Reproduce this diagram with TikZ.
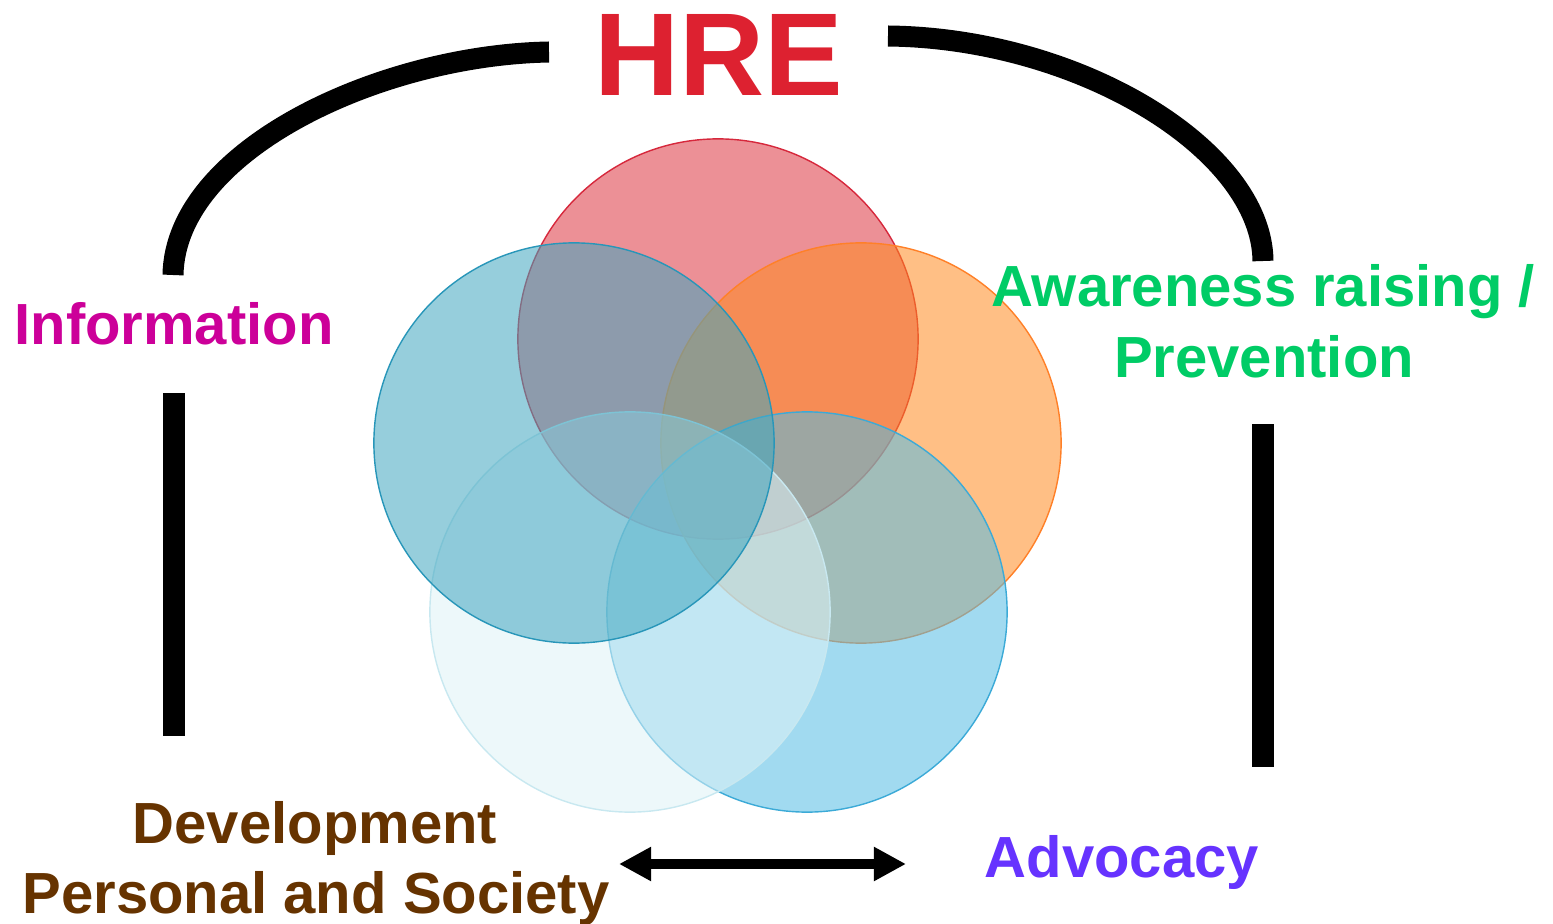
\documentclass[tikz,border=0pt]{standalone}
\usepackage{fontspec}
\setmainfont{Liberation Sans}
\usetikzlibrary{arrows.meta}
\definecolor{cRed}{RGB}{220,53,64}
\definecolor{cOrange}{RGB}{255,138,32}
\definecolor{cTeal}{RGB}{64,166,191}
\definecolor{cBR}{RGB}{84,188,228}
\definecolor{cBL}{RGB}{222,242,246}
\definecolor{cRedE}{RGB}{214,40,60}
\definecolor{cOrangeE}{RGB}{255,128,40}
\definecolor{cTealE}{RGB}{40,150,185}
\definecolor{cBRE}{RGB}{60,170,215}
\definecolor{cBLE}{RGB}{200,232,240}
\definecolor{hre}{RGB}{221,33,48}
\definecolor{info}{RGB}{204,0,153}
\definecolor{aware}{RGB}{0,204,102}
\definecolor{devel}{RGB}{102,51,0}
\definecolor{advoc}{RGB}{102,51,255}
\begin{document}
\begin{tikzpicture}[x=0.01cm,y=-0.01cm,
  bubble/.style={circle, minimum size=4cm, inner sep=0pt, fill opacity=0.55, line width=0.4pt},
  bar/.style={line width=0.21cm, line cap=butt, line join=round},
  lbl/.style={font=\fontsize{16.5}{19.8}\selectfont\bfseries, inner sep=0pt, anchor=base},
  dblarrow/.style={line width=0.1cm, {Triangle[length=0.32cm,width=0.32cm]}-{Triangle[length=0.32cm,width=0.32cm]}},
]
\useasboundingbox (0,0) rectangle (1553,924);
% circles
\node[bubble, fill=cRed, draw=cRedE] (red) at (718,339) {};
\node[bubble, fill=cOrange, draw=cOrangeE] (orange) at (861,443) {};
\node[bubble, fill=cBR, draw=cBRE] (bright) at (807,612) {};
\node[bubble, fill=cBL, draw=cBLE] (bleft) at (630,612) {};
\node[bubble, fill=cTeal, draw=cTealE] (teal) at (574,443) {};
% coordinates
\coordinate (la1) at (549,52);
\coordinate (la2) at (173,275);
\coordinate (ra1) at (888,36);
\coordinate (ra2) at (1263,261);
\coordinate (lv1) at (174,393);
\coordinate (lv2) at (174,736);
\coordinate (rv1) at (1263,424);
\coordinate (rv2) at (1263,767);
\coordinate (arrL) at (619,864);
\coordinate (arrR) at (906,864);
% bars
\draw[bar] (la1) .. controls (380,55) and (175,150) .. (la2);
\draw[bar] (ra1) .. controls (1080,38) and (1262,150) .. (ra2);
\draw[bar] (lv1) -- (lv2);
\draw[bar] (rv1) -- (rv2);
\draw[dblarrow] (arrL) -- (arrR);
% labels
\node[lbl, text=hre, font=\fontsize{33.5}{40}\selectfont\bfseries] (hreT) at (719,95) {HRE};
\node[lbl, text=info] (info) at (174,344) {Information};
\node[lbl, text=aware] (aware1) at (1263,307) {Awareness raising /};
\node[lbl, text=aware] (aware2) at (1264,377) {Prevention};
\node[lbl, text=devel] (dev1) at (315,843) {Development};
\node[lbl, text=devel] (dev2) at (316,913) {Personal and Society};
\node[lbl, text=advoc] (adv) at (1122,877) {Advocacy};
\end{tikzpicture}
\end{document}
